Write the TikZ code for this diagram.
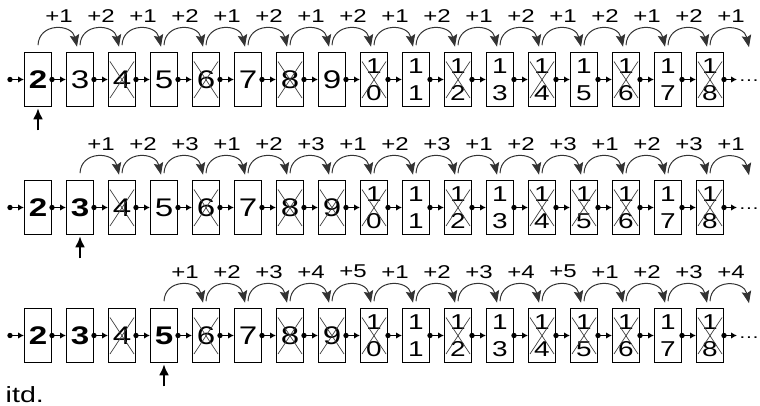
\documentclass[tikz,border=0pt]{standalone}
\usepackage{fontspec}
\setmainfont[FakeStretch=1.3]{Liberation Sans}
\usetikzlibrary{arrows.meta,calc}
\begin{document}
\begin{tikzpicture}[x=1pt,y=-1pt,
  cell/.style={draw,line width=1.3pt,minimum width=26.7pt,minimum height=54.3pt,inner sep=0pt,font=\fontsize{25.5}{28}\selectfont},
  boldcell/.style={cell,font=\fontsize{25.5}{28}\selectfont\bfseries},
  twocell/.style={cell,align=center,font=\fontsize{21.5}{27.5}\selectfont},
  ghost/.style={minimum width=26.7pt,minimum height=54.3pt,inner sep=0pt},
  link/.style={line width=1.2pt,-{Latex[length=6pt,width=6.5pt]}},
  jump/.style={line width=1pt,draw=black!80,-{Stealth[length=12pt,width=9.5pt,inset=2pt]}},
  lab/.style={font=\fontsize{18.5}{22}\selectfont,inner sep=0pt},
  xline/.style={line width=0.7pt,draw=black!75},
  ptr/.style={line width=2pt,-{Latex[length=11pt,width=10pt]}},
  dotsty/.style={font=\fontsize{16}{20}\selectfont,inner sep=0pt,anchor=base west}
]
\useasboundingbox (0,0) rectangle (760,406);
\foreach \rw/\cy/\st/\pd/\crossed in {1/79.5/2/2/{4,6,8,10,12,14,16,18},
                                       2/207.5/3/3/{4,6,8,9,10,12,14,15,16,18},
                                       3/335.5/5/5/{4,6,8,9,10,12,14,15,16,18}} {
  % boxes
  \foreach \n in {2,...,18} {
    \pgfmathsetmacro\cx{38+(\n-2)*42}
    \ifnum\n>9
      \pgfmathtruncatemacro\dig{\n-10}
      \node[twocell] (r\rw n\n) at (\cx,\cy) {1\\\dig};
    \else
      \ifnum\n>\st
        \node[cell] (r\rw n\n) at (\cx,\cy) {\n};
      \else
        \ifnum\n=4
          \node[cell] (r\rw n\n) at (\cx,\cy) {\n};
        \else
          \node[boldcell] (r\rw n\n) at (\cx,\cy) {\n};
        \fi
      \fi
    \fi
  }
  \node[ghost] (r\rw n19) at (752,\cy) {};
  % crosses
  \foreach \c in \crossed {
    \draw[xline] ($(r\rw n\c)+(-12,-18)$) -- ($(r\rw n\c)+(12,18.5)$);
    \draw[xline] ($(r\rw n\c)+(12,-18)$) -- ($(r\rw n\c)+(-12,18.5)$);
  }
  % links
  \coordinate (in\rw) at (10,\cy);
  \fill (in\rw) circle (2.7);
  \draw[link] (in\rw) -- (r\rw n2.west);
  \foreach \n in {2,...,17} {
    \pgfmathtruncatemacro\m{\n+1}
    \fill (r\rw n\n.east) circle (2.7);
    \draw[link] (r\rw n\n.east) -- (r\rw n\m.west);
  }
  \coordinate (out\rw) at (737,\cy);
  \fill (r\rw n18.east) circle (2.7);
  \draw[link] (r\rw n18.east) -- (out\rw);
  \node[dotsty] (e\rw) at (738.5,\cy+2.5) {…};
  % jumps
  \foreach \n in {\st,...,18} {
    \pgfmathtruncatemacro\m{\n+1}
    \pgfmathtruncatemacro\k{mod(\n-\st,\pd)+1}
    \draw[jump] ($(r\rw n\n.north)+(0,-6.5)$) .. controls +(1,-23) and +(-5,-23) .. ($(r\rw n\m.north)+(-3,-5)$);
    \node[lab] (l\rw n\n) at ($(r\rw n\n.north)+(21,-36)$) {+\k};
  }
  % pointer
  \coordinate (p\rw) at ($(r\rw n\st.south)+(0,23)$);
  \draw[ptr] (p\rw) -- ($(r\rw n\st.south)+(0,1)$);
}
\node[font=\fontsize{22}{24}\selectfont,inner sep=0pt,anchor=base west] (itd) at (5.5,402) {itd.};
\end{tikzpicture}
\end{document}
